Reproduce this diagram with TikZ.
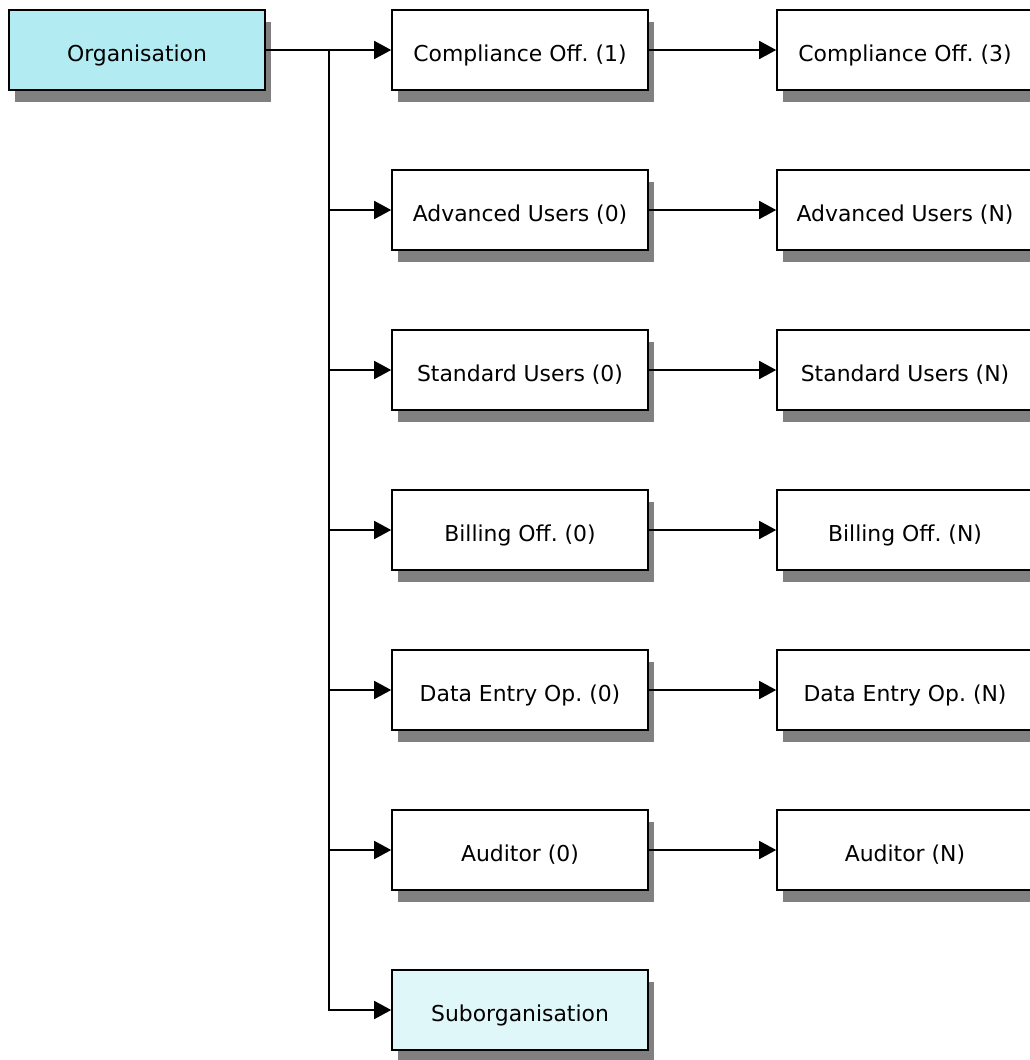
\documentclass[tikz,border=0pt]{standalone}
\usepackage{fontspec}
\setmainfont{DejaVu Sans}
\usetikzlibrary{arrows.meta,shadows}
\definecolor{orgfill}{RGB}{178,235,242}
\definecolor{subfill}{RGB}{224,247,250}
\definecolor{shadowgray}{RGB}{128,128,128}
\tikzset{
  rolebox/.style={draw,line width=1.6pt,fill=white,minimum width=256pt,minimum height=80pt,
    inner sep=0pt,text height=23pt,text depth=0pt,font=\fontsize{21.9}{26}\selectfont\frenchspacing,
    general shadow={shadow xshift=6pt,shadow yshift=-12pt,fill=shadowgray}},
  link/.style={line width=1.6pt,-{Triangle[length=17pt,width=18pt]}}
}
\begin{document}
\begin{tikzpicture}[x=1pt,y=-1pt]
  \useasboundingbox (0,0) rectangle (1030,1060);
  \node[rolebox,fill=orgfill] (org) at (137,50) {Organisation};
  \node[rolebox] (comp1) at (520,50) {Compliance Off. (1)};
  \node[rolebox] (adv0) at (520,210) {Advanced Users (0)};
  \node[rolebox] (std0) at (520,370) {Standard Users (0)};
  \node[rolebox] (bill0) at (520,530) {Billing Off. (0)};
  \node[rolebox] (data0) at (520,690) {Data Entry Op. (0)};
  \node[rolebox] (aud0) at (520,850) {Auditor (0)};
  \node[rolebox,fill=subfill] (suborg) at (520,1010) {Suborganisation};
  \node[rolebox] (comp3) at (905,50) {Compliance Off. (3)};
  \node[rolebox] (advN) at (905,210) {Advanced Users (N)};
  \node[rolebox] (stdN) at (905,370) {Standard Users (N)};
  \node[rolebox] (billN) at (905,530) {Billing Off. (N)};
  \node[rolebox] (dataN) at (905,690) {Data Entry Op. (N)};
  \node[rolebox] (audN) at (905,850) {Auditor (N)};
  % trunk from the organisation
  \coordinate (split) at (329,50);
  \draw[link] (org.east) -- (comp1.west);
  \draw[link] (split) |- (adv0.west);
  \draw[link] (split) |- (std0.west);
  \draw[link] (split) |- (bill0.west);
  \draw[link] (split) |- (data0.west);
  \draw[link] (split) |- (aud0.west);
  \draw[link] (split) |- (suborg.west);
  % second column
  \draw[link] (comp1.east) -- (comp3.west);
  \draw[link] (adv0.east) -- (advN.west);
  \draw[link] (std0.east) -- (stdN.west);
  \draw[link] (bill0.east) -- (billN.west);
  \draw[link] (data0.east) -- (dataN.west);
  \draw[link] (aud0.east) -- (audN.west);
\end{tikzpicture}
\end{document}
